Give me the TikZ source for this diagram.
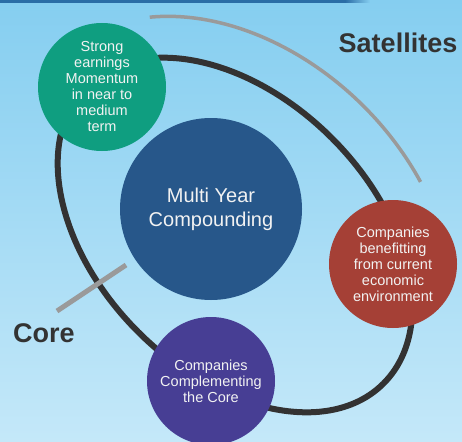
\documentclass[tikz,border=0pt]{standalone}
\usepackage{fontspec}
\setmainfont{Liberation Sans}
\usepackage{tikz}
\usetikzlibrary{arrows}
\definecolor{bgtop}{HTML}{85CEF0}
\definecolor{bgbot}{HTML}{C4E8F9}
\definecolor{stripblue}{HTML}{2A6DA6}
\definecolor{ringgray}{HTML}{333232}
\definecolor{arcgray}{HTML}{9A9A9A}
\definecolor{earngreen}{HTML}{0F9E80}
\definecolor{coreblue}{HTML}{27578A}
\definecolor{econred}{HTML}{A54036}
\definecolor{comppurple}{HTML}{473E94}
\definecolor{labeltext}{HTML}{333333}
\definecolor{bubbletext}{HTML}{F2F2F2}

\begin{document}
\begin{tikzpicture}[line cap=round,line join=round,x=1pt,y=-1pt,
  bubble/.style={circle,inner sep=0pt,minimum size=128pt,align=center,
    text=bubbletext,font=\fontsize{14.5}{16}\selectfont},
  bigbubble/.style={bubble,minimum size=182pt,font=\fontsize{20}{24}\selectfont},
  sidelabel/.style={text=labeltext,font=\fontsize{27}{30}\selectfont\bfseries,inner sep=0pt}]
\useasboundingbox (0,0) rectangle (462,441);
\shade[top color=bgtop,bottom color=bgbot] (0,0) rectangle (462,441);
\fill[stripblue] (0,0) rectangle (345,3);
\shade[left color=stripblue,right color=bgtop] (345,0) rectangle (370,3);
\coordinate (ctr) at (235,235);
\coordinate (core a) at (57,311);
\coordinate (core b) at (126,265);
\draw [arcgray,line width=3.5pt,line cap=butt,rotate around={-45:(ctr)}] (ctr) ++(-149:250 and 182) arc[start angle=-149,end angle=-68,x radius=250,y radius=182];
\draw [ringgray,line width=6pt,rotate around={-45:(ctr)}] (ctr) ellipse [x radius=210,y radius=137];
\draw [arcgray,line width=5pt,line cap=butt] (core a) -- (core b);
\node[bigbubble,fill=coreblue] (multi) at (211,209) {Multi Year\\Compounding};
\node[bubble,fill=earngreen] (earn) at (102,87) {Strong\\earnings\\Momentum\\in near to\\medium\\term};
\node[bubble,fill=econred] (econ) at (393,264) {Companies\\benefitting\\from current\\economic\\environment};
\node[bubble,fill=comppurple] (compl) at (211,381) {Companies\\Complementing\\the Core};
\node[sidelabel] (sat) at (398,43) {Satellites};
\node[sidelabel] (core) at (44,333) {Core};
\end{tikzpicture}
\end{document}
